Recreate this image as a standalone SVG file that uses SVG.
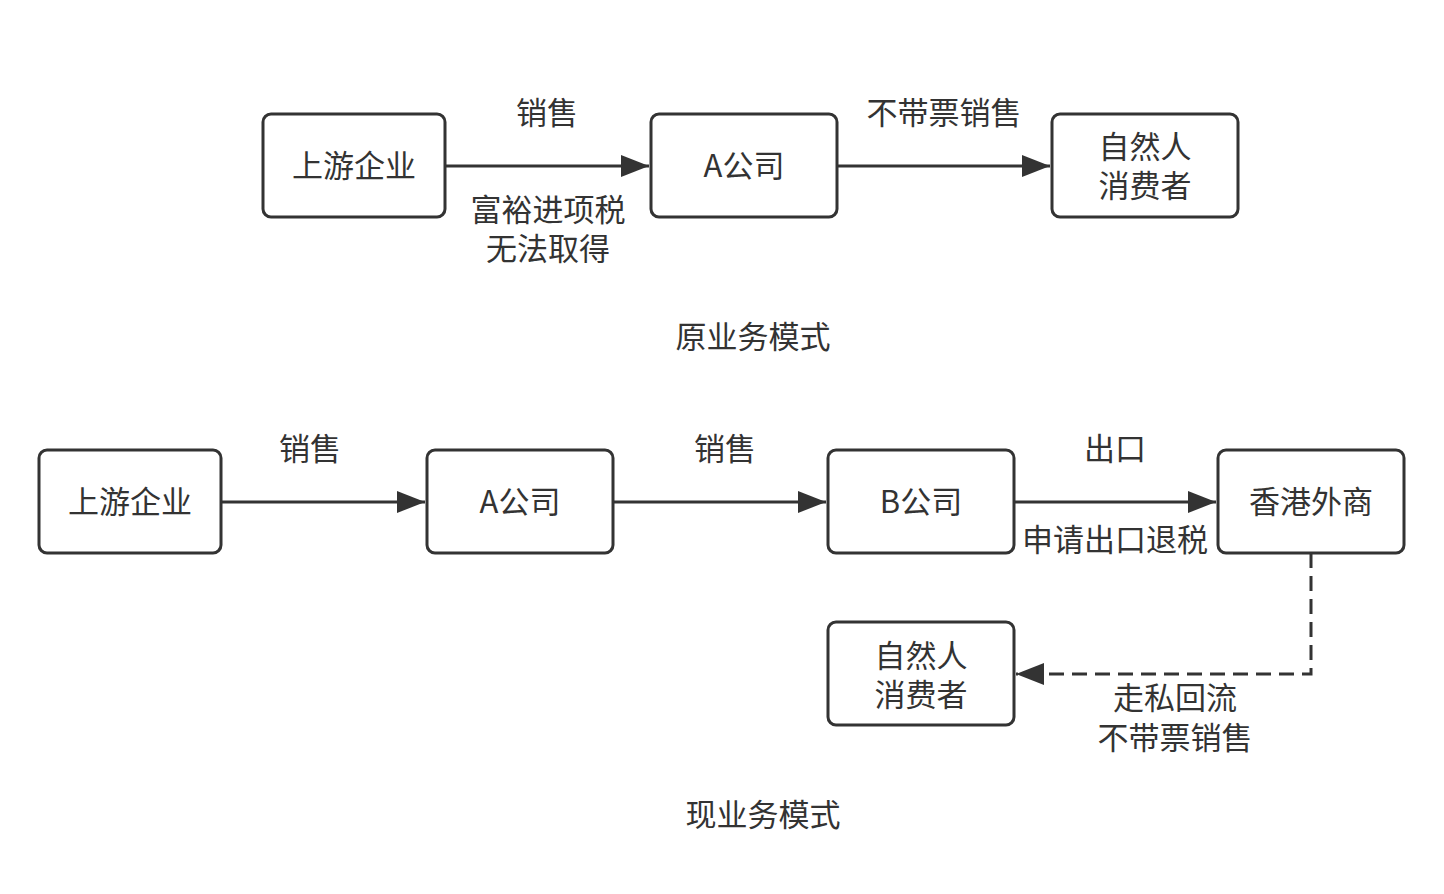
<svg xmlns="http://www.w3.org/2000/svg" width="1444" height="894" viewBox="0 0 1444 894">
<style>
.box{fill:#fff;stroke:#333;stroke-width:3}
.t{font-family:"Noto Sans CJK SC","Noto Sans",sans-serif;font-size:31px;fill:#333;text-anchor:middle;dominant-baseline:central}
.e{fill:none;stroke:#333;stroke-width:3}
.d{stroke-dasharray:15 8}
</style>
<defs>
<marker id="ah" markerUnits="userSpaceOnUse" markerWidth="30" markerHeight="22" refX="28" refY="11" orient="auto">
<path d="M0,0 L28,11 L0,22 Z" fill="#333"/>
</marker>
</defs>
<rect width="1444" height="894" fill="#fff"/>
<g id="connectors">
<path class="e" d="M445,166 H649" marker-end="url(#ah)"/>
<path class="e" d="M837,166 H1050" marker-end="url(#ah)"/>
<path class="e" d="M221,502 H425" marker-end="url(#ah)"/>
<path class="e" d="M613,502 H826" marker-end="url(#ah)"/>
<path class="e" d="M1014,502 H1216" marker-end="url(#ah)"/>
<path class="e d" d="M1311,553 V674 H1016" marker-end="url(#ah)"/>
<text class="t" x="547" y="110">销售</text>
<text class="t" x="548" y="207"><tspan x="548">富裕进项税</tspan><tspan x="548" dy="39">无法取得</tspan></text>
<text class="t" x="944" y="110">不带票销售</text>
<text class="t" x="310" y="446">销售</text>
<text class="t" x="725" y="446">销售</text>
<text class="t" x="1115" y="446">出口</text>
<text class="t" x="1115" y="537">申请出口退税</text>
<text class="t" x="1175" y="695"><tspan x="1175">走私回流</tspan><tspan x="1175" dy="40">不带票销售</tspan></text>
</g>
<g id="n1"><rect class="box" x="263" y="114" width="182" height="103" rx="8"/><text class="t" x="354" y="163">上游企业</text></g>
<g id="n2"><rect class="box" x="651" y="114" width="186" height="103" rx="8"/><text class="t" x="744" y="163">A公司</text></g>
<g id="n3"><rect class="box" x="1052" y="114" width="186" height="103" rx="8"/><text class="t" x="1145" y="144"><tspan x="1145">自然人</tspan><tspan x="1145" dy="39">消费者</tspan></text></g>
<g id="title1"><text class="t" x="753" y="334">原业务模式</text></g>
<g id="m1"><rect class="box" x="39" y="450" width="182" height="103" rx="8"/><text class="t" x="130" y="499">上游企业</text></g>
<g id="m2"><rect class="box" x="427" y="450" width="186" height="103" rx="8"/><text class="t" x="520" y="499">A公司</text></g>
<g id="m3"><rect class="box" x="828" y="450" width="186" height="103" rx="8"/><text class="t" x="921" y="499">B公司</text></g>
<g id="m4"><rect class="box" x="1218" y="450" width="186" height="103" rx="8"/><text class="t" x="1311" y="499">香港外商</text></g>
<g id="m5"><rect class="box" x="828" y="622" width="186" height="103" rx="8"/><text class="t" x="921" y="653"><tspan x="921">自然人</tspan><tspan x="921" dy="39">消费者</tspan></text></g>
<g id="title2"><text class="t" x="763" y="812">现业务模式</text></g>
</svg>
